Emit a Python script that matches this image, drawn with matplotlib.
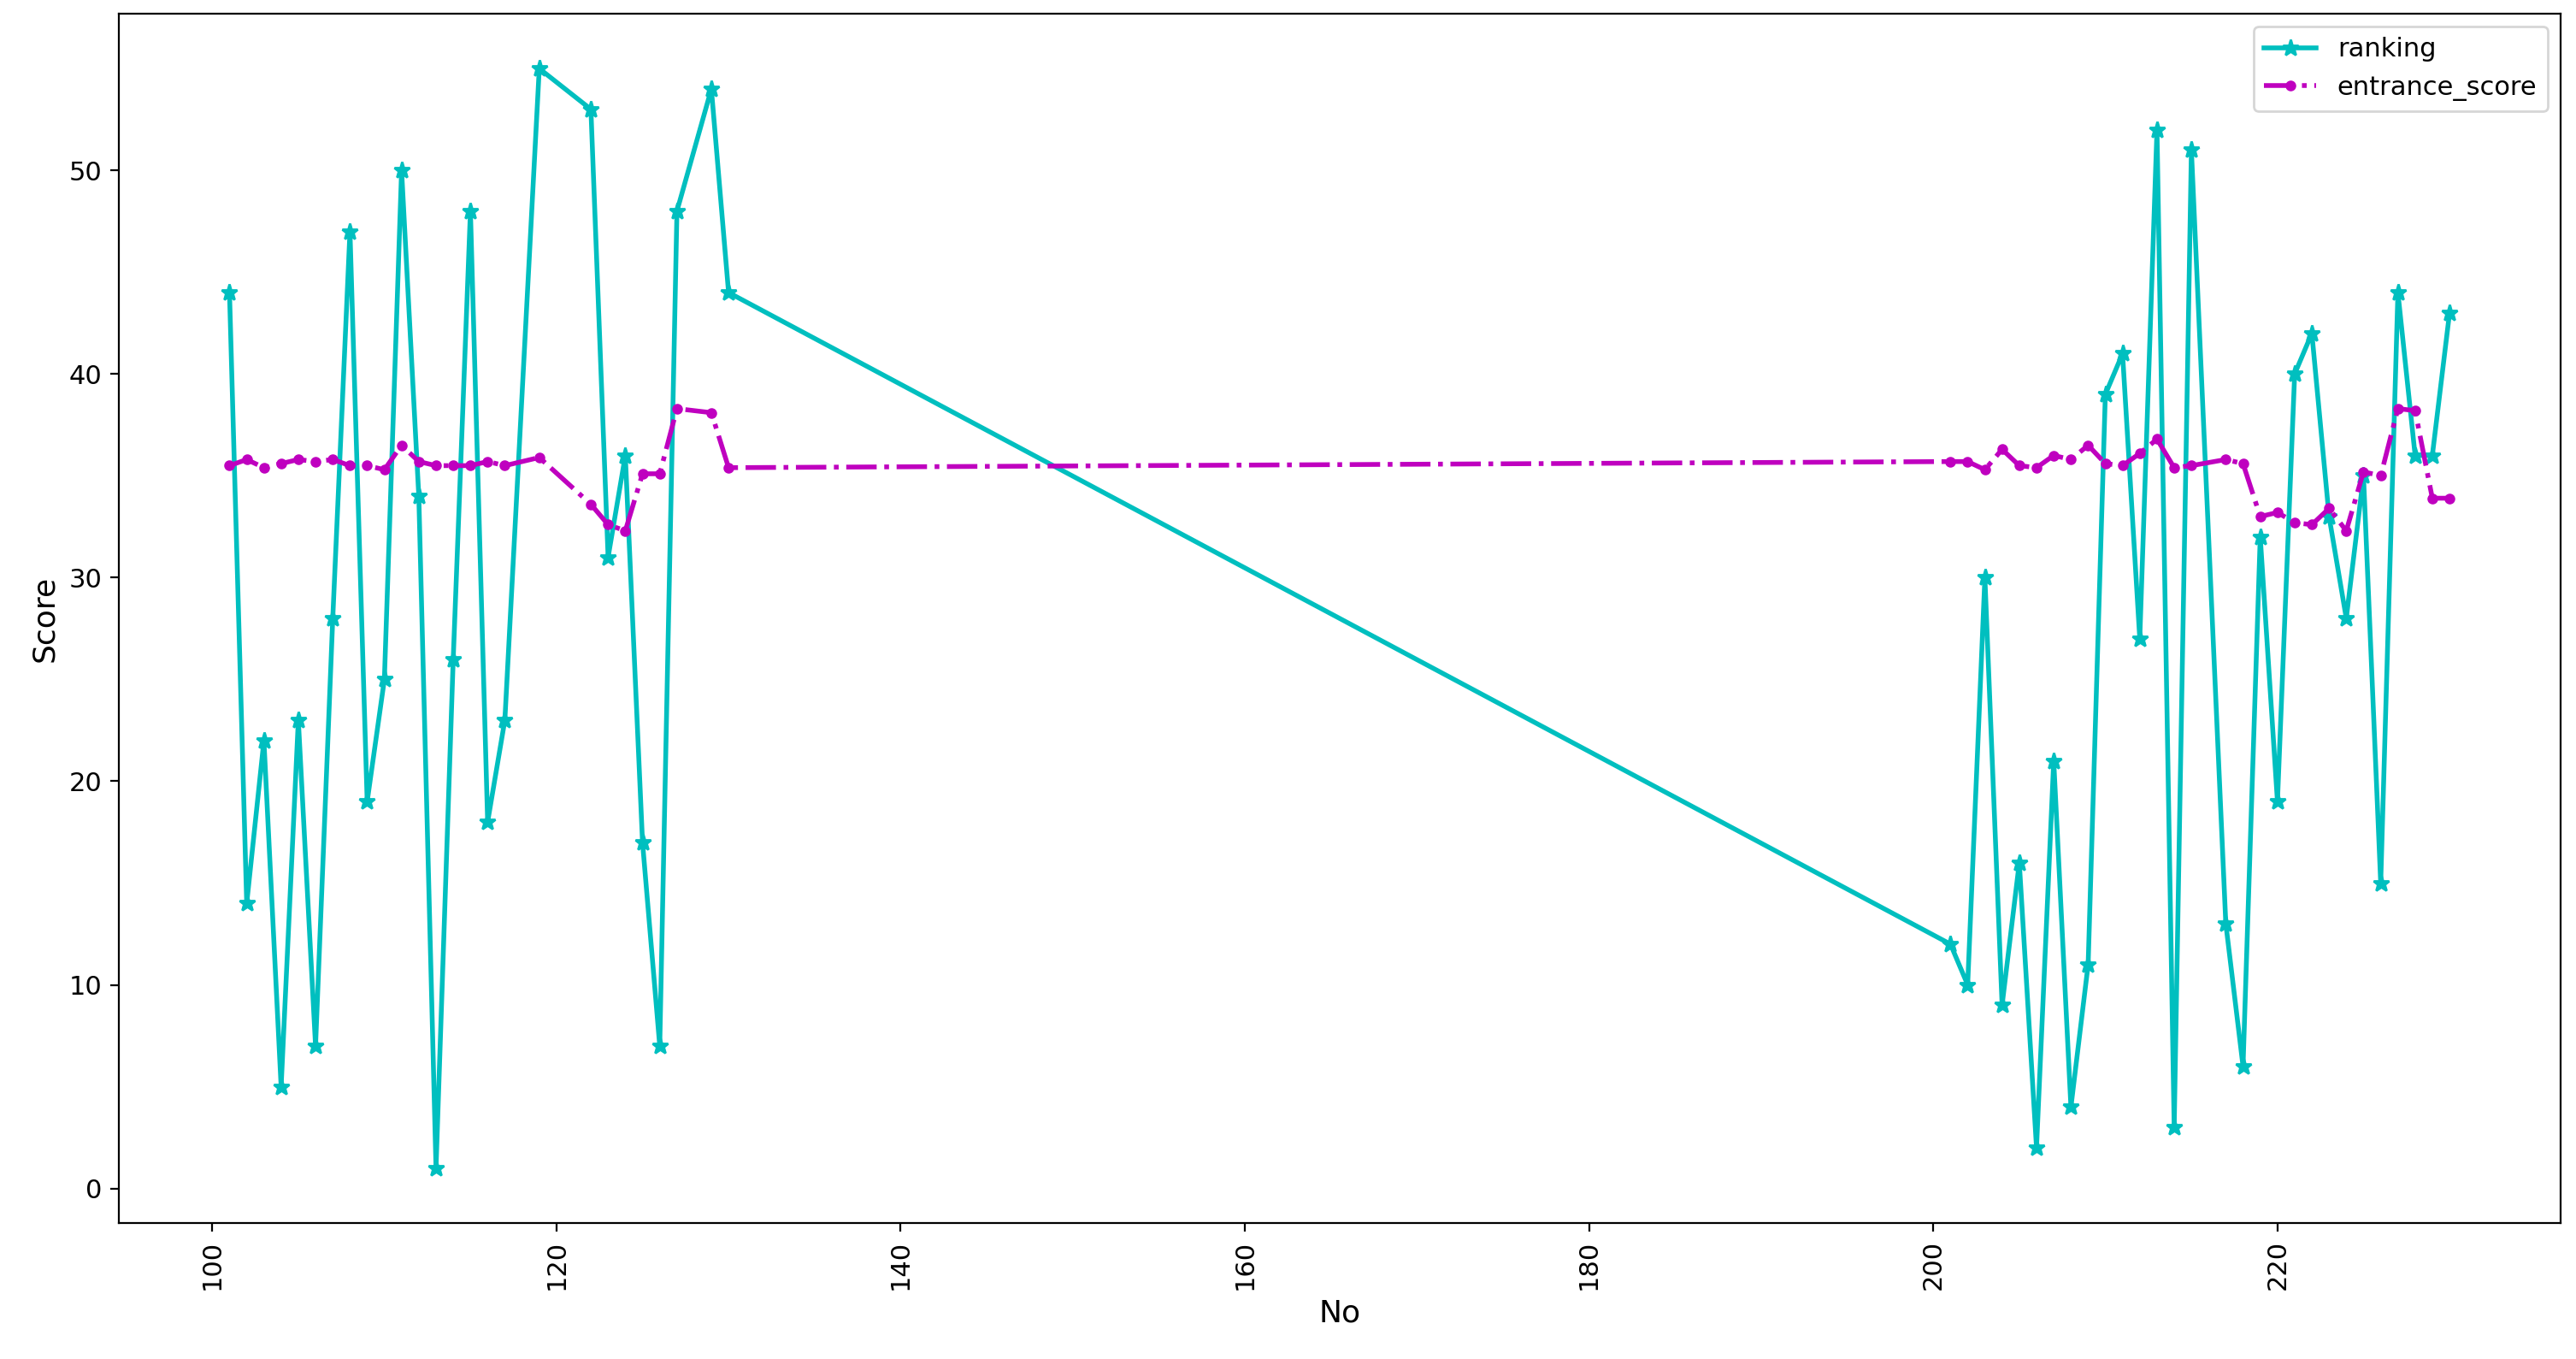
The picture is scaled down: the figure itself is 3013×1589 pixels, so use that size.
import matplotlib
matplotlib.use("Agg")
import matplotlib.pyplot as plt

no = [101,102,103,104,105,106,107,108,109,110,111,112,113,114,115,116,117,119,122,123,124,125,126,127,129,130,
      201,202,203,204,205,206,207,208,209,210,211,212,213,214,215,217,218,219,220,221,222,223,224,225,226,227,228,229,230]
ranking = [44,14,22,5,23,7,28,47,19,25,50,34,1,26,48,18,23,55,53,31,36,17,7,48,54,44,
           12,10,30,9,16,2,21,4,11,39,41,27,52,3,51,13,6,32,19,40,42,33,28,35,15,44,36,36,43]
entrance_score = [35.5,35.8,35.4,35.6,35.8,35.7,35.8,35.5,35.5,35.3,36.5,35.7,35.5,35.5,35.5,35.7,35.5,35.9,33.6,32.6,32.3,35.1,35.1,38.3,38.1,35.4,
                  35.7,35.7,35.3,36.3,35.5,35.4,36.0,35.8,36.5,35.6,35.5,36.1,36.8,35.4,35.5,35.8,35.6,33.0,33.2,32.7,32.6,33.4,32.3,35.2,35.0,38.3,38.2,33.9,33.9]

fig, ax = plt.subplots(figsize=(15.065, 7.945), dpi=200)
ax.plot(no, ranking, color='c', marker='*', linestyle='-', linewidth=2, markersize=7, label='ranking')
ax.plot(no, entrance_score, color='m', marker='.', linestyle='-.', linewidth=2, markersize=7, label='entrance_score')
ax.set_xlabel('No', fontsize=13)
ax.set_ylabel('Score', fontsize=13)
ax.tick_params(labelsize=11)
plt.xticks(rotation=90)
ax.legend(fontsize=11, loc='upper right')
fig.subplots_adjust(left=0.046, right=0.994, top=0.99, bottom=0.1)
fig.savefig('out.png', dpi=200)
